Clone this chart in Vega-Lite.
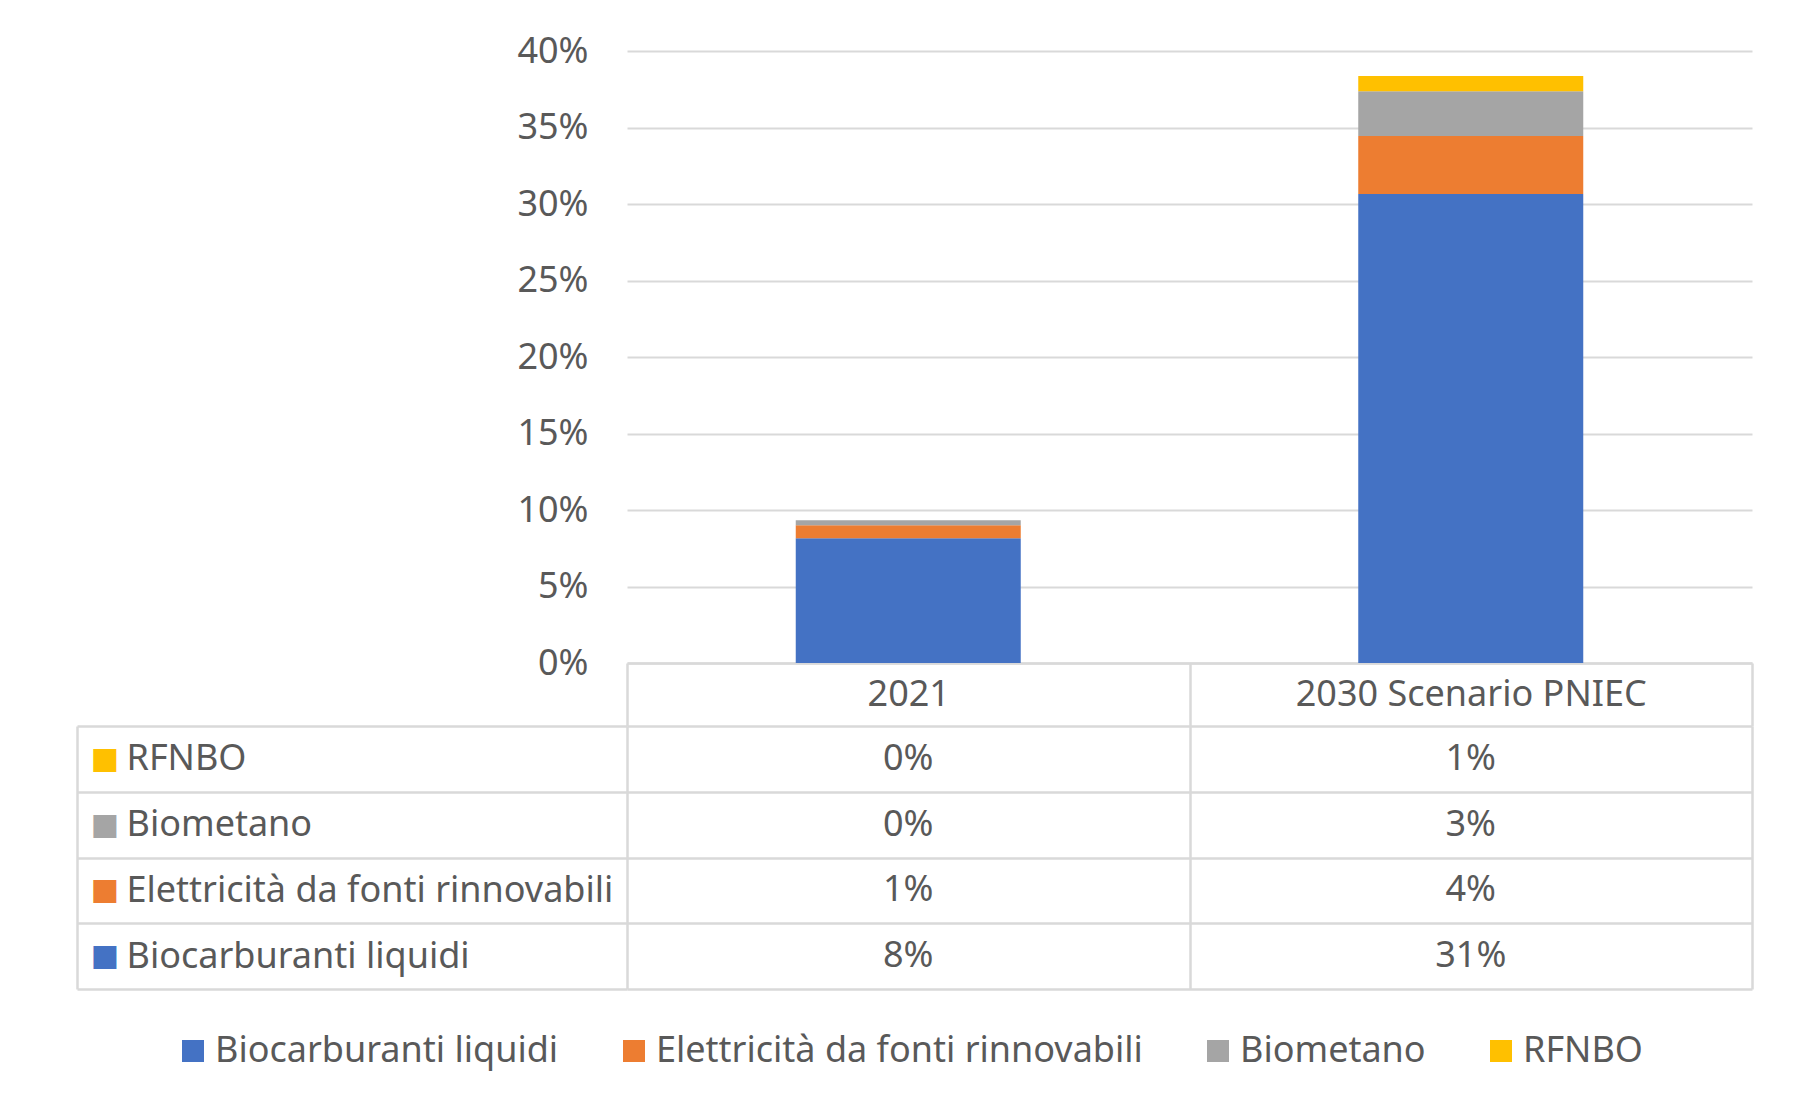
{
  "$schema": "https://vega.github.io/schema/vega-lite/v6.json",
  "description": "Quota rinnovabili nei trasporti: 2021 vs 2030 Scenario PNIEC",
  "background": "white",
  "padding": {"left": 75, "top": 33, "right": 20, "bottom": 20},
  "datasets": {
    "d": [
      {"anno": "2021", "serie": "Biocarburanti liquidi", "v": 0.0815, "k": 1},
      {"anno": "2021", "serie": "Elettricità da fonti rinnovabili", "v": 0.0085, "k": 2},
      {"anno": "2021", "serie": "Biometano", "v": 0.0033, "k": 3},
      {"anno": "2021", "serie": "RFNBO", "v": 0.0, "k": 4},
      {"anno": "2030 Scenario PNIEC", "serie": "Biocarburanti liquidi", "v": 0.3065, "k": 1},
      {"anno": "2030 Scenario PNIEC", "serie": "Elettricità da fonti rinnovabili", "v": 0.0379, "k": 2},
      {"anno": "2030 Scenario PNIEC", "serie": "Biometano", "v": 0.0293, "k": 3},
      {"anno": "2030 Scenario PNIEC", "serie": "RFNBO", "v": 0.01, "k": 4}
    ]
  },
  "config": {
    "font": "Noto Sans",
    "view": {"stroke": null},
    "axis": {
      "labelFont": "Noto Sans",
      "labelFontSize": 36,
      "labelColor": "#595959",
      "title": null
    }
  },
  "bounds": "flush",
  "spacing": 63,
  "vconcat": [
    {
      "width": 1125,
      "height": 612,
      "data": {"name": "d"},
      "mark": {"type": "bar", "width": {"band": 0.4}},
      "encoding": {
        "x": {
          "field": "anno",
          "type": "nominal",
          "sort": ["2021", "2030 Scenario PNIEC"],
          "scale": {"paddingInner": 0, "paddingOuter": 0},
          "axis": {
            "labelAngle": 0,
            "labelBaseline": "middle",
            "labelPadding": -31.5,
            "labelLimit": 600,
            "tickBand": "extent",
            "tickSize": 63,
            "tickColor": "#D9D9D9",
            "tickWidth": 2.5,
            "domainColor": "#D9D9D9",
            "domainWidth": 2.5,
            "grid": false
          }
        },
        "y": {
          "field": "v",
          "type": "quantitative",
          "stack": "zero",
          "scale": {"domain": [0, 0.4], "nice": false},
          "axis": {
            "format": ".0%",
            "values": [0, 0.05, 0.1, 0.15, 0.2, 0.25, 0.3, 0.35, 0.4],
            "domain": false,
            "ticks": false,
            "tickSize": 0,
            "labelPadding": 39,
            "gridColor": "#D9D9D9",
            "gridWidth": 2
          }
        },
        "color": {
          "field": "serie",
          "type": "nominal",
          "scale": {
            "domain": ["Biocarburanti liquidi", "Elettricità da fonti rinnovabili", "Biometano", "RFNBO"],
            "range": ["#4472C4", "#ED7D31", "#A5A5A5", "#FFC000"]
          },
          "legend": {
            "orient": "none",
            "legendX": -452,
            "legendY": 982,
            "direction": "horizontal",
            "columns": 4,
            "columnPadding": 57,
            "title": null,
            "symbolType": "square",
            "symbolSize": 484,
            "symbolStrokeWidth": 0,
            "labelFont": "Noto Sans",
            "labelFontSize": 36,
            "labelColor": "#595959",
            "labelOffset": 4,
            "labelLimit": 700
          }
        },
        "order": {"field": "k", "type": "quantitative"}
      }
    },
    {
      "width": 1125,
      "height": 263,
      "data": {"name": "d"},
      "layer": [
        {
          "mark": {"type": "text", "fontSize": 36, "color": "#595959", "font": "Noto Sans"},
          "encoding": {
            "x": {
              "field": "anno",
              "type": "nominal",
              "sort": ["2021", "2030 Scenario PNIEC"],
              "scale": {"type": "band", "paddingInner": 0, "paddingOuter": 0},
              "axis": {
                "labels": false,
                "ticks": false,
                "domain": false,
                "grid": true,
                "tickBand": "extent",
                "gridColor": "#D9D9D9",
                "gridWidth": 2.5
              }
            },
            "y": {
              "field": "serie",
              "type": "nominal",
              "sort": ["RFNBO", "Biometano", "Elettricità da fonti rinnovabili", "Biocarburanti liquidi"],
              "scale": {"type": "band", "paddingInner": 0, "paddingOuter": 0},
              "axis": {
                "orient": "left",
                "grid": true,
                "tickBand": "extent",
                "gridColor": "#D9D9D9",
                "gridWidth": 2.5,
                "ticks": true,
                "tickSize": 550,
                "tickColor": "#D9D9D9",
                "tickWidth": 2.5,
                "domain": false,
                "labelAlign": "left",
                "labelPadding": -49,
                "labelLimit": 600
              }
            },
            "text": {"field": "v", "type": "quantitative", "format": ".0%"}
          }
        },
        {
          "mark": {"type": "text", "opacity": 0},
          "encoding": {
            "y": {
              "field": "serie",
              "type": "nominal",
              "sort": ["RFNBO", "Biometano", "Elettricità da fonti rinnovabili", "Biocarburanti liquidi"],
              "scale": {"type": "band", "paddingInner": 0, "paddingOuter": 0},
              "axis": {
                "orient": "left",
                "offset": 550,
                "grid": false,
                "ticks": false,
                "tickSize": 0,
                "domain": true,
                "domainColor": "#D9D9D9",
                "domainWidth": 2.5,
                "labelAlign": "left",
                "labelPadding": -13,
                "labelExpr": "'■'",
                "labelFont": "DejaVu Sans",
                "labelFontSize": 30,
                "labelColor": {
                  "condition": [
                    {"test": "datum.value === 'RFNBO'", "value": "#FFC000"},
                    {"test": "datum.value === 'Biometano'", "value": "#A5A5A5"},
                    {"test": "datum.value === 'Biocarburanti liquidi'", "value": "#4472C4"}
                  ],
                  "value": "#ED7D31"
                }
              }
            },
            "text": {"field": "serie", "type": "nominal"}
          }
        }
      ],
      "resolve": {"axis": {"y": "independent"}}
    }
  ]
}
